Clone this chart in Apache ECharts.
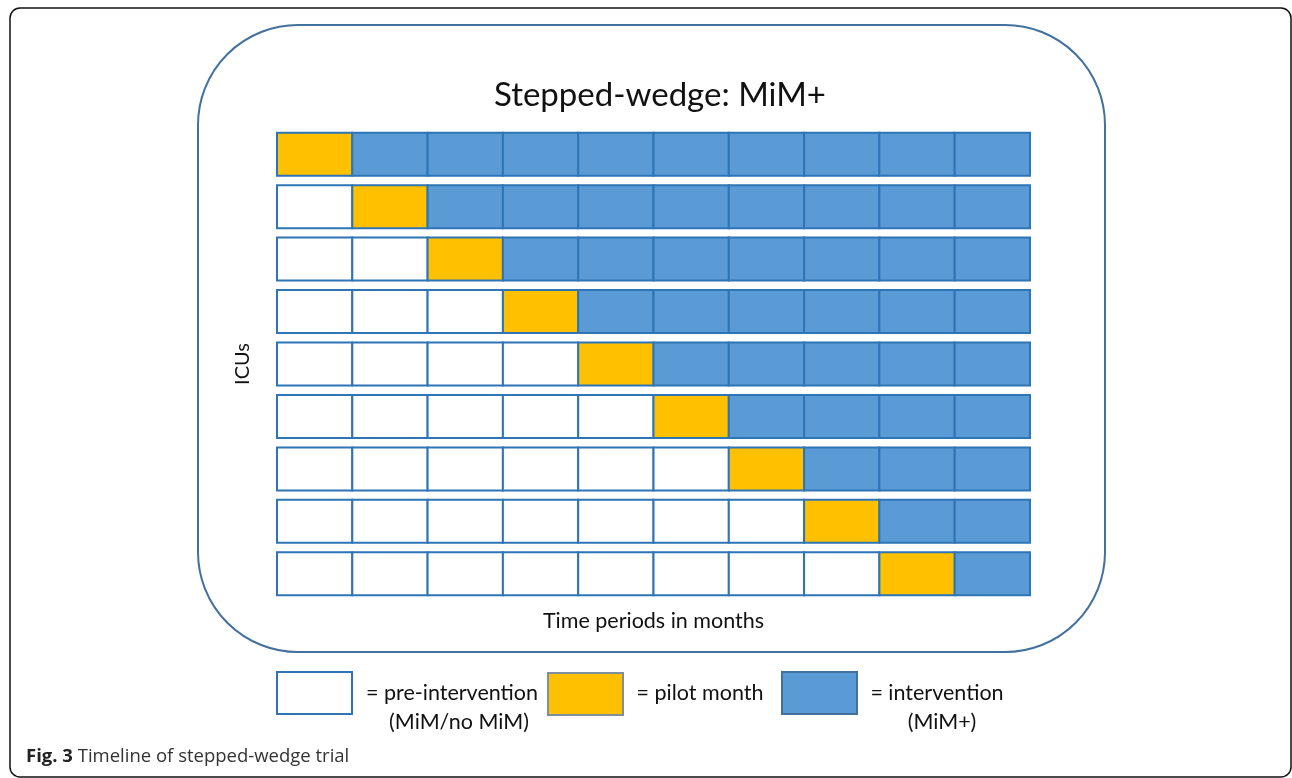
<!DOCTYPE html>
<html>
<head>
    <meta http-equiv="Content-Type" content="text/html; charset=UTF-8">
    <style>
        html, body { margin: 0; padding: 0; background: #fff; }
    </style>
</head>
<body>

    <div id="wedgeChart" style="width:1292px;height:778px"></div>

    <script type="text/javascript" src="https://cdn.jsdelivr.net/npm/echarts@6/dist/echarts.min.js"></script>
    <script type="text/javascript">
        // time periods (months) and clusters
        var months = ['1', '2', '3', '4', '5', '6', '7', '8', '9', '10'];
        var icus = ['ICU 1', 'ICU 2', 'ICU 3', 'ICU 4', 'ICU 5', 'ICU 6', 'ICU 7', 'ICU 8', 'ICU 9'];

        // 0 = pre-intervention, 1 = pilot month, 2 = intervention
        var icu1 = [1, 2, 2, 2, 2, 2, 2, 2, 2, 2];
        var icu2 = [0, 1, 2, 2, 2, 2, 2, 2, 2, 2];
        var icu3 = [0, 0, 1, 2, 2, 2, 2, 2, 2, 2];
        var icu4 = [0, 0, 0, 1, 2, 2, 2, 2, 2, 2];
        var icu5 = [0, 0, 0, 0, 1, 2, 2, 2, 2, 2];
        var icu6 = [0, 0, 0, 0, 0, 1, 2, 2, 2, 2];
        var icu7 = [0, 0, 0, 0, 0, 0, 1, 2, 2, 2];
        var icu8 = [0, 0, 0, 0, 0, 0, 0, 1, 2, 2];
        var icu9 = [0, 0, 0, 0, 0, 0, 0, 0, 1, 2];
        var phaseNames = ['pre-intervention', 'pilot month', 'intervention'];
        var phaseNotes = ['(MiM/no MiM)', '', '(MiM+)'];

        var rows = [icu1, icu2, icu3, icu4, icu5, icu6, icu7, icu8, icu9];
        var cellData = [];
        for (var r = 0; r < rows.length; r++) {
            for (var m = 0; m < months.length; m++) {
                cellData.push([m, r, rows[r][m]]);
            }
        }

        var fills = ['#ffffff', '#ffc000', '#5b9bd5'];
        var font = 'Lato, "Open Sans", sans-serif';

        function renderCell(params, api) {
            var c = api.coord([api.value(0), api.value(1)]);
            var s = api.size([1, 1]);
            var h = s[1] * 0.82;
            return {
                type: 'rect',
                shape: { x: c[0] - s[0] / 2, y: c[1] - h / 2, width: s[0], height: h },
                style: { fill: fills[api.value(2)], stroke: '#2e75b6', lineWidth: 2 }
            };
        }

        function label(txt, x, y) {
            return {
                type: 'text',
                style: { text: txt, x: x, y: y, align: 'center', verticalAlign: 'middle', font: '21.5px ' + font, fill: '#111' }
            };
        }

        var myChart = echarts.init(document.getElementById('wedgeChart'));
        var option = {
            backgroundColor: '#fff',
            animation: false,
            title: {
                text: 'Stepped-wedge: MiM+',
                left: 655,
                top: 74,
                textAlign: 'center',
                textStyle: { fontFamily: font, fontSize: 33, fontWeight: 'normal', color: '#111' }
            },
            grid: { left: 277, right: 262, top: 128, bottom: 178 },
            xAxis: {
                type: 'category',
                data: months,
                axisLine: { show: false },
                axisTick: { show: false },
                axisLabel: { show: false },
                name: 'Time periods in months',
                nameLocation: 'middle',
                nameGap: 10,
                nameTextStyle: { fontFamily: font, fontSize: 21.5, color: '#111', verticalAlign: 'top' }
            },
            yAxis: {
                type: 'category',
                data: icus,
                inverse: true,
                axisLine: { show: false },
                axisTick: { show: false },
                axisLabel: { show: false },
                name: 'ICUs',
                nameLocation: 'middle',
                nameRotate: 90,
                nameGap: 24,
                nameTextStyle: { fontFamily: font, fontSize: 20, color: '#111' }
            },
            series: [{
                type: 'custom',
                name: 'phase',
                renderItem: renderCell,
                data: cellData
            }],
            graphic: [
                {
                    type: 'rect', z: -1,
                    shape: { x: 10, y: 8, width: 1281, height: 769, r: 10 },
                    style: { fill: 'none', stroke: '#111', lineWidth: 1.5 }
                },
                {
                    type: 'rect', z: -1,
                    shape: { x: 198, y: 25, width: 907, height: 627, r: 100 },
                    style: { fill: 'none', stroke: '#41719c', lineWidth: 2 }
                },
                {
                    type: 'rect',
                    shape: { x: 277, y: 672, width: 75, height: 42 },
                    style: { fill: fills[0], stroke: '#2e75b6', lineWidth: 2 }
                },
                label('= ' + phaseNames[0], 452, 693),
                label(phaseNotes[0], 459, 722),
                {
                    type: 'rect',
                    shape: { x: 548, y: 673, width: 75, height: 42 },
                    style: { fill: fills[1], stroke: '#7f8fa0', lineWidth: 2 }
                },
                label('= ' + phaseNames[1], 700, 693),
                {
                    type: 'rect',
                    shape: { x: 782, y: 672, width: 75, height: 42 },
                    style: { fill: fills[2], stroke: '#41719c', lineWidth: 2 }
                },
                label('= ' + phaseNames[2], 937, 693),
                label(phaseNotes[2], 942, 722),
                {
                    type: 'text',
                    style: {
                        text: '{b|Fig. 3} Timeline of stepped-wedge trial',
                        x: 26, y: 757, verticalAlign: 'middle',
                        font: '18.5px "Open Sans", sans-serif',
                        fill: '#333',
                        rich: {
                            b: { fontFamily: '"Open Sans", sans-serif', fontSize: 18.5, fontWeight: 'bold', fill: '#222' }
                        }
                    }
                }
            ]
        };
        myChart.setOption(option);
    </script>
</body>
</html>
